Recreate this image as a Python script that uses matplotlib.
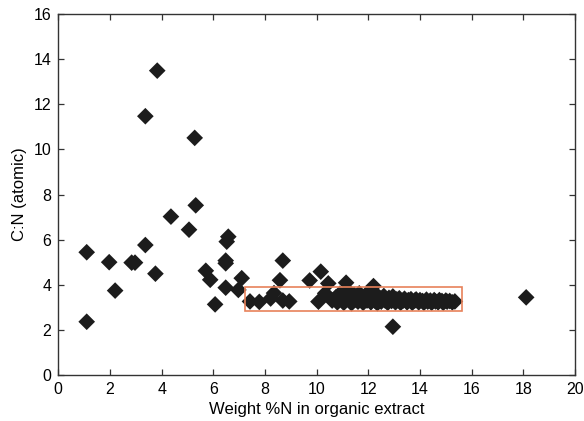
import matplotlib
matplotlib.use("Agg")
import matplotlib.pyplot as plt
from matplotlib.patches import Rectangle

# ---------------------------------------------------------------------------
# Data
# ---------------------------------------------------------------------------
# scattered points outside the dense band
scatter_x = [1.10, 1.10, 1.97, 2.20, 2.84, 2.97, 3.37, 3.37, 3.83, 3.76,
             4.36, 5.06, 5.28, 5.32, 5.71, 5.88, 6.07, 6.48, 6.48, 6.52,
             6.58, 6.48, 6.97, 7.10, 7.42, 7.78, 8.22, 8.35, 8.69, 8.94,
             8.58, 8.69, 9.73, 10.16, 10.45, 11.14, 12.20, 12.95, 10.07,
             10.33, 18.11]
scatter_y = [5.44, 2.36, 5.00, 3.74, 4.98, 4.98, 5.76, 11.47, 13.49, 4.49,
             7.02, 6.44, 10.51, 7.52, 4.62, 4.22, 3.13, 5.07, 4.95, 5.91,
             6.13, 3.87, 3.77, 4.29, 3.26, 3.24, 3.39, 3.63, 3.30, 3.26,
             4.20, 5.07, 4.19, 4.58, 4.06, 4.09, 3.94, 2.14, 3.25,
             3.62, 3.44]

# dense band of samples (10.5 - 15.5 wt% N)
band_x = [10.60, 10.75, 10.80, 10.90, 11.00, 11.05, 11.15, 11.20, 11.30, 11.35,
          11.45, 11.50, 11.60, 11.65, 11.75, 11.80, 11.90, 11.95, 12.05, 12.10,
          12.15, 12.25, 12.30, 12.35, 12.45, 12.50, 12.60, 12.65, 12.75, 12.80,
          12.90, 12.95, 13.05, 13.10, 13.20, 13.25, 13.35, 13.40, 13.50, 13.55,
          13.65, 13.70, 13.80, 13.85, 13.95, 14.00, 14.10, 14.15, 14.25, 14.30,
          14.40, 14.45, 14.55, 14.60, 14.70, 14.75, 14.85, 14.90, 15.00, 15.05,
          15.15, 15.25, 15.35]
band_y = [3.30, 3.45, 3.22, 3.60, 3.35, 3.20, 3.50, 3.75, 3.30, 3.18,
          3.55, 3.35, 3.25, 3.62, 3.40, 3.20, 3.50, 3.30, 3.72, 3.22,
          3.45, 3.30, 3.58, 3.18, 3.40, 3.25, 3.50, 3.30, 3.20, 3.42,
          3.28, 3.48, 3.22, 3.35, 3.40, 3.20, 3.30, 3.38, 3.22, 3.32,
          3.36, 3.20, 3.30, 3.35, 3.22, 3.32, 3.28, 3.20, 3.34, 3.25,
          3.30, 3.20, 3.32, 3.26, 3.22, 3.32, 3.28, 3.20, 3.30, 3.25,
          3.28, 3.22, 3.26]

# highlighted region
box_x = (7.23, 15.64)
box_y = (2.85, 3.91)

x_ticks = [0, 2, 4, 6, 8, 10, 12, 14, 16, 18, 20]
y_ticks = [0, 2, 4, 6, 8, 10, 12, 14, 16]

# ---------------------------------------------------------------------------
# Plot
# ---------------------------------------------------------------------------
plt.rcParams["font.family"] = ["Liberation Sans", "DejaVu Sans"]

fig = plt.figure(figsize=(5.84, 4.21), dpi=100)
ax = fig.add_axes([0.0998, 0.1093, 0.8848, 0.8574])

marker_kw = dict(marker="D", s=72, color="#1c1c1c", edgecolors="none", zorder=3)
ax.scatter(scatter_x, scatter_y, **marker_kw)
ax.scatter(band_x, band_y, **marker_kw)

ax.add_patch(Rectangle((box_x[0], box_y[0]), box_x[1] - box_x[0], box_y[1] - box_y[0],
                       fill=False, edgecolor="#e8825a", linewidth=1.2, zorder=4))

ax.set_xlim(0, 20)
ax.set_ylim(0, 16)
ax.set_xticks(x_ticks)
ax.set_yticks(y_ticks)
ax.tick_params(direction="in", length=4, width=0.9, color="#333333",
               labelsize=11.5, top=True, right=True, pad=5)
for sp in ax.spines.values():
    sp.set_color("#333333")
    sp.set_linewidth(1.0)

ax.set_xlabel("Weight %N in organic extract", fontsize=12, labelpad=4)
ax.set_ylabel("C:N (atomic)", fontsize=12, labelpad=5)

fig.savefig("out.png", dpi=100)
